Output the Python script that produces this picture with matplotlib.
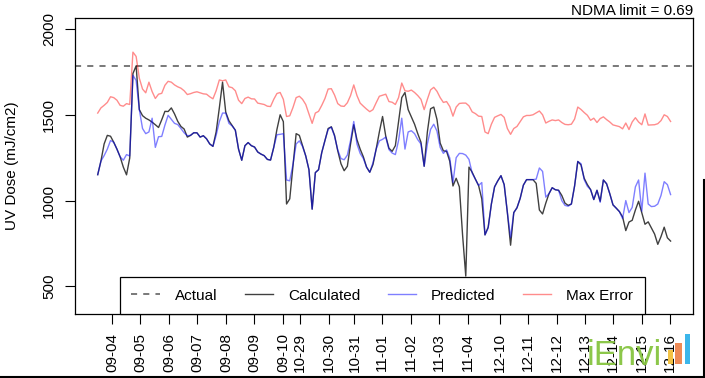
import numpy as np
import matplotlib
matplotlib.use("Agg")
import matplotlib.pyplot as plt
from matplotlib.patches import Rectangle
from matplotlib.lines import Line2D

plt.rcParams['font.family'] = ['Liberation Sans', 'DejaVu Sans']

# ---------------- data ----------------
tick_labels = ["09-04", "09-05", "09-06", "09-07", "09-08", "09-09", "09-10",
               "10-29", "10-30", "10-31", "11-01", "11-02", "11-03", "11-04",
               "12-10", "12-11", "12-12", "12-13", "12-14", "12-15", "12-16"]
# observation index at which each date label sits
tick_pos = [4.5, 13.2, 22.3, 31.0, 40.1, 48.8, 57.9, 63.2, 72.3, 80.2, 88.8,
            97.9, 106.7, 115.7, 125.7, 134.5, 143.5, 152.3, 161.0, 170.1, 178.8]

calculated = [
    1151, 1230, 1330, 1380, 1375, 1340, 1300, 1255, 1195, 1150,
    1248, 1740, 1785, 1530, 1495, 1480, 1470, 1457, 1442, 1426,
    1471, 1520, 1519, 1540, 1505, 1462, 1432, 1417, 1370, 1380,
    1395, 1395, 1370, 1378, 1360, 1330, 1316, 1400, 1540, 1690,
    1515, 1465, 1437, 1410, 1300, 1235, 1320, 1338, 1320, 1312,
    1283, 1271, 1262, 1240, 1236, 1310, 1415, 1500, 1460, 980,
    1010, 1200, 1390, 1380, 1320, 1260, 1180, 950, 1163, 1180,
    1280, 1350, 1420, 1430, 1380, 1290, 1215, 1174, 1200, 1330,
    1442, 1355, 1300, 1255, 1195, 1165, 1210, 1300, 1400, 1490,
    1375, 1305, 1287, 1320, 1460, 1600, 1630, 1530, 1487, 1445,
    1390, 1340, 1200, 1400, 1535, 1545, 1473, 1335, 1290, 1287,
    1229, 1085, 1130, 1080, 800, 560, 1195, 1165, 1125, 1088,
    1010, 800, 845, 980, 1080, 1115, 1145, 1093, 930, 740,
    930, 958, 1013, 1090, 1122, 1122, 1122, 1100, 945, 922,
    985, 1040, 1075, 1063, 1060, 1030, 985, 972, 980, 1085,
    1228, 1208, 1130, 1093, 1064, 1006, 1060, 996, 1120, 1098,
    1040, 975, 956, 936, 905, 825, 875, 885, 945, 996,
    929, 862, 876, 840, 805, 745, 790, 845, 783, 764,
]

predicted = [
    1151, 1230, 1262, 1300, 1350, 1340, 1300, 1255, 1235, 1268,
    1260, 1730, 1700, 1530, 1420, 1390, 1400, 1480, 1310, 1372,
    1374, 1440, 1497, 1473, 1450, 1443, 1420, 1395, 1378, 1380,
    1395, 1395, 1370, 1378, 1360, 1330, 1316, 1380, 1460, 1510,
    1510, 1450, 1435, 1410, 1300, 1235, 1320, 1338, 1320, 1312,
    1283, 1271, 1262, 1240, 1236, 1310, 1384, 1386, 1390, 1120,
    1115, 1210, 1330, 1348, 1315, 1260, 1180, 950, 1163, 1180,
    1280, 1350, 1415, 1428, 1375, 1295, 1245, 1238, 1265, 1350,
    1461, 1330, 1275, 1245, 1195, 1165, 1220, 1300, 1348, 1357,
    1370, 1297, 1277, 1268, 1350, 1480, 1300, 1400, 1407, 1390,
    1355, 1330, 1200, 1330, 1415, 1445, 1405, 1310, 1275, 1295,
    1248, 1105, 1250, 1275, 1274, 1265, 1240, 1160, 1125, 1088,
    1105, 800, 840, 980, 1080, 1115, 1145, 1093, 930, 785,
    930, 958, 1013, 1090, 1122, 1122, 1122, 1125, 1190, 1170,
    1020, 1040, 1075, 1063, 1060, 1000, 972, 967, 980, 1085,
    1228, 1215, 1122, 1083, 1064, 1006, 1060, 990, 1120, 1098,
    1040, 975, 956, 936, 895, 1000, 930, 960, 1080, 1120,
    938, 1160, 980, 965, 967, 980, 1030, 1110, 1093, 1035,
]

max_error = [
    1510, 1540, 1555, 1572, 1605, 1600, 1585, 1555, 1550, 1565,
    1560, 1865, 1840, 1713, 1650, 1628, 1690, 1635, 1595, 1620,
    1625, 1672, 1695, 1690, 1674, 1663, 1655, 1640, 1618, 1623,
    1630, 1634, 1628, 1622, 1620, 1605, 1593, 1640, 1703, 1698,
    1703, 1663, 1658, 1640, 1585, 1565, 1595, 1603, 1593, 1592,
    1568, 1564, 1560, 1550, 1548, 1590, 1624, 1630, 1590, 1490,
    1494, 1542, 1600, 1608, 1590, 1560, 1505, 1450, 1510, 1520,
    1555, 1595, 1650, 1652, 1615, 1565, 1551, 1549, 1570, 1612,
    1674, 1612, 1568, 1550, 1533, 1518, 1530, 1570, 1608, 1614,
    1620, 1577, 1573, 1560, 1600, 1685, 1640, 1637, 1644, 1630,
    1612, 1590, 1530, 1590, 1645, 1660, 1637, 1600, 1572, 1577,
    1548, 1492, 1545, 1566, 1568, 1568, 1552, 1517, 1507, 1492,
    1490, 1400, 1390, 1445, 1485, 1494, 1502, 1485, 1420, 1386,
    1420, 1432, 1460, 1488, 1496, 1496, 1500, 1511, 1522, 1500,
    1452, 1462, 1470, 1466, 1470, 1455, 1444, 1442, 1445, 1475,
    1545, 1531, 1513, 1497, 1468, 1480, 1455, 1478, 1488, 1472,
    1458, 1441, 1436, 1431, 1418, 1452, 1414, 1458, 1483, 1458,
    1442, 1505, 1440, 1441, 1442, 1448, 1466, 1500, 1490, 1461,
]

actual_level = 1785
yticks = [500, 1000, 1500, 2000]
ndma_text = "NDMA limit = 0.69"
ylabel = "UV Dose (mJ/cm2)"

# ---------------- figure ----------------
W, H = 705, 378
fig = plt.figure(figsize=(W / 100, H / 100), dpi=100)
fig.patch.set_facecolor("white")
ax = fig.add_axes([75 / W, 1 - 314 / H, 618 / W, 296 / H])

x = np.arange(len(calculated))

h_act = ax.axhline(actual_level, color="#555555", lw=1.1, dashes=(4, 4),
                   label="Actual", zorder=2)
h_calc, = ax.plot(x, calculated, color="black", alpha=0.75, lw=1.0,
                  label="Calculated", zorder=3)
h_pred, = ax.plot(x, predicted, color="blue", alpha=0.5, lw=1.0,
                  label="Predicted", zorder=4)
h_err, = ax.plot(x, max_error, color="red", alpha=0.45, lw=1.0,
                 label="Max Error", zorder=4)

ax.set_xlim(-7.1, 186.0)
ax.set_ylim(339, 2064)

ax.set_yticks(yticks)
ax.set_yticklabels([str(v) for v in yticks], rotation=90,
                   rotation_mode="anchor", ha="center", va="bottom")
ax.set_xticks(tick_pos)
ax.set_xticklabels(tick_labels, rotation=90)

ax.tick_params(axis="both", direction="out", length=7, width=0.8,
               colors="black", labelsize=11)
ax.tick_params(axis="x", pad=6.5)
ax.tick_params(axis="y", pad=6.5)

for s in ax.spines.values():
    s.set_linewidth(0.9)
    s.set_color("black")

ax.set_ylabel(ylabel, fontsize=11)
ax.yaxis.set_label_coords(-0.09, 0.5)

ax.text(1.0, 1 + 3.3 / 296, ndma_text, transform=ax.transAxes,
        ha="right", va="baseline", fontsize=11)

leg = ax.legend(handles=[h_act, h_calc, h_pred, h_err], ncol=4,
                loc="lower left", bbox_to_anchor=(45 / 618, 0.0),
                borderaxespad=0, frameon=True, fancybox=False,
                edgecolor="black", framealpha=1.0, fontsize=11,
                handlelength=1.85, handletextpad=1.0, columnspacing=1.78,
                borderpad=0.75)
leg.get_frame().set_linewidth(0.9)
leg.set_zorder(10)

# watermark logo (text + small bars)
fig.text(587 / W, 1 - 365 / H, "iEnvi", color="#86c440", fontsize=25,
         ha="left", va="baseline", alpha=0.95)
for (x0, y0, x1, y1, c) in [(668, 350, 673, 364, "#f3c244"),
                            (675, 343, 682, 364, "#ee8a55"),
                            (685, 334, 690, 364, "#3cb6ea")]:
    fig.add_artist(Rectangle((x0 / W, 1 - y1 / H), (x1 - x0) / W, (y1 - y0) / H,
                             transform=fig.transFigure, color=c, lw=0))

# screenshot border (bottom and lower right)
fig.add_artist(Line2D([0, 1], [1 / H, 1 / H], transform=fig.transFigure,
                      color="black", lw=1.5))
fig.add_artist(Line2D([1 - 1 / W, 1 - 1 / W], [0, 1 - 180 / H],
                      transform=fig.transFigure, color="black", lw=1.5))

fig.savefig("out.png", dpi=100)
